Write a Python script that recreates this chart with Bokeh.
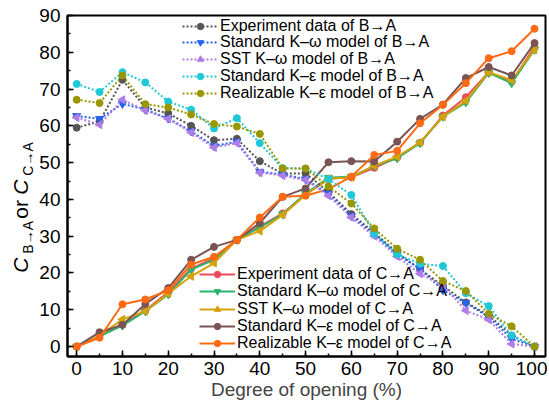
import numpy as np
from bokeh.plotting import figure
from bokeh.layouts import row
from bokeh.models import Legend, LegendItem, Range1d, FixedTicker
from bokeh.core.properties import value
from bokeh.embed import file_html
from bokeh.resources import INLINE

degree = [0, 5, 10, 15, 20, 25, 30, 35, 40, 45, 50, 55, 60, 65, 70, 75, 80, 85, 90, 95, 100]

# B -> A series
exp_ba = [59.5, 61.2, 72.5, 65.0, 63.4, 60.0, 56.1, 56.5, 50.4, 47.0, 47.1, 42.0, 36.0, 31.0, 25.5, 21.0, 16.5, 12.0, 8.5, 3.0, 0]
skw_ba = [62.7, 61.9, 66.0, 64.4, 62.0, 58.5, 54.5, 55.7, 47.5, 46.8, 45.5, 41.5, 35.5, 30.5, 25.0, 21.2, 15.3, 11.9, 8.0, 2.1, 0]
sst_ba = [62.3, 60.3, 67.1, 64.2, 61.9, 58.2, 54.1, 55.3, 47.3, 46.5, 45.3, 41.0, 35.1, 30.0, 24.5, 19.8, 16.6, 9.8, 7.3, 0.7, 0]
ske_ba = [71.4, 69.2, 74.6, 71.8, 66.6, 64.4, 59.3, 62.1, 55.3, 48.5, 48.4, 45.5, 41.2, 30.7, 25.1, 22.5, 21.9, 14.5, 11.0, 3.0, 0]
rke_ba = [67.1, 66.2, 73.7, 65.9, 65.0, 63.1, 60.5, 59.8, 57.8, 48.4, 48.4, 43.5, 38.9, 32.1, 26.6, 23.6, 17.8, 15.1, 8.9, 5.5, 0]

# C -> A series
exp_ca = [0, 3.0, 6.0, 9.8, 14.8, 21.2, 24.0, 29.0, 32.7, 36.2, 41.4, 45.6, 46.0, 48.6, 51.4, 55.4, 62.8, 67.8, 74.6, 72.0, 81.4]
skw_ca = [0, 2.8, 5.7, 9.6, 14.2, 20.9, 23.6, 29.0, 32.4, 36.0, 41.6, 45.9, 46.2, 49.1, 51.2, 55.3, 62.5, 66.4, 74.4, 71.6, 80.7]
sst_ca = [0, 3.0, 7.4, 9.6, 14.4, 19.1, 22.7, 29.0, 31.4, 35.8, 41.2, 45.6, 46.0, 49.2, 51.6, 55.5, 62.5, 66.8, 74.6, 72.4, 80.7]
ske_ca = [0, 3.9, 5.9, 11.6, 15.9, 23.6, 27.1, 29.0, 33.6, 40.7, 43.0, 50.1, 50.4, 50.3, 55.7, 61.9, 65.8, 73.0, 76.0, 73.7, 82.5]
rke_ca = [0, 2.4, 11.5, 12.8, 15.3, 22.3, 24.4, 29.0, 35.1, 40.7, 41.0, 42.8, 46.2, 52.1, 53.2, 60.7, 65.7, 71.6, 78.4, 80.3, 86.4]

labels_ba = ["Experiment data of B\u2192A", "Standard K\u2013\u03c9 model of B\u2192A", "SST K\u2013\u03c9 model of B\u2192A",
             "Standard K\u2013\u03b5 model of B\u2192A", "Realizable K\u2013\u03b5 model of B\u2192A"]
labels_ca = ["Experiment data of C\u2192A", "Standard K\u2013\u03c9 model of C\u2192A", "SST K\u2013\u03c9 model of C\u2192A",
             "Standard K\u2013\u03b5 model of C\u2192A", "Realizable K\u2013\u03b5 model of C\u2192A"]

x_ticks = [0, 10, 20, 30, 40, 50, 60, 70, 80, 90, 100]
y_ticks = [0, 10, 20, 30, 40, 50, 60, 70, 80, 90]

# y-axis title pieces: (text, size, style, subscript?, offset along the axis in px)
ytitle = [("C", "21px", "italic", False, 0), ("B\u2192A", "14px", "normal", True, 19),
          ("or", "21px", "normal", False, 54), ("C", "21px", "italic", False, 78),
          ("C\u2192A", "14px", "normal", True, 97)]

FONT = "Liberation Sans"
TW = 36            # width of the y-title strip
FRAME_H = 341
yr = Range1d(-2.7, 90)

p = figure(width=547 - TW, height=405, min_border_left=66 - TW, min_border_right=2, min_border_top=15,
           min_border_bottom=49, x_range=Range1d(-2, 102.4), y_range=yr,
           output_backend="svg", toolbar_location=None)
p.xgrid.visible = False
p.ygrid.visible = False
p.outline_line_color = "black"
p.outline_line_width = 2
p.background_fill_color = "white"
p.border_fill_color = "white"

for ax in (p.xaxis[0], p.yaxis[0]):
    ax.axis_line_width = 2
    ax.axis_line_color = "black"
    ax.major_tick_in = 6
    ax.major_tick_out = 0
    ax.minor_tick_in = 3
    ax.minor_tick_out = 0
    ax.major_tick_line_width = 1.5
    ax.minor_tick_line_width = 1.5
    ax.major_label_text_font = FONT
    ax.major_label_text_font_size = "19px"
    ax.major_label_text_color = "black"

p.xaxis[0].ticker = FixedTicker(ticks=x_ticks, minor_ticks=list(range(0, 101, 5)))
p.yaxis[0].ticker = FixedTicker(ticks=y_ticks, minor_ticks=list(range(0, 91, 5)))
p.xaxis[0].major_label_standoff = 5
p.yaxis[0].major_label_standoff = 7
p.xaxis[0].axis_label = "Degree of opening (%)"
p.xaxis[0].axis_label_text_font = FONT
p.xaxis[0].axis_label_text_font_size = "19px"
p.xaxis[0].axis_label_text_font_style = "normal"
p.xaxis[0].axis_label_standoff = 1

# C -> A (solid)
ca_series = [exp_ca, skw_ca, sst_ca, ske_ca, rke_ca]
ca_colors = ["#EE4B5A", "#2DB36E", "#D4A20A", "#7A5353", "#FF6A13"]
markers = ["circle", "inverted_triangle", "triangle", "circle", "circle"]
angles = [0, 0, np.pi / 2, 0, 0]
sizes = [7, 8, 8, 7, 7]
ca_items = []
for ys, c, m, a, s, lab in zip(ca_series, ca_colors, markers, angles, sizes, labels_ca):
    r1 = p.line(degree, ys, line_color=c, line_width=2)
    r2 = p.scatter(degree, ys, marker=m, angle=a, size=s, fill_color=c, line_color=c)
    ca_items.append(LegendItem(label=lab, renderers=[r1, r2]))

# B -> A (dotted)
ba_series = [exp_ba, skw_ba, sst_ba, ske_ba, rke_ba]
ba_colors = ["#555555", "#2563EB", "#B07CE8", "#1FC8D8", "#9A9600"]
ba_items = []
for ys, c, m, a, s, lab in zip(ba_series, ba_colors, markers, angles, sizes, labels_ba):
    r1 = p.line(degree, ys, line_color=c, line_width=2, line_dash="2 2")
    r2 = p.scatter(degree, ys, marker=m, angle=a, size=s, fill_color=c, line_color=c)
    ba_items.append(LegendItem(label=lab, renderers=[r1, r2]))

# one small legend per entry so the row pitch can follow the original
ROW_H = 18
def add_legend_column(items, left, first_center, pitch):
    for i, it in enumerate(items):
        center_from_top = first_center + i * pitch
        y_bottom = FRAME_H - center_from_top - ROW_H / 2
        p.add_layout(Legend(items=[it], location=(left, y_bottom), padding=0, margin=0, spacing=0,
                            glyph_width=36, glyph_height=16, label_height=16, label_standoff=2,
                            label_text_font=FONT, label_text_font_size="16px", label_text_color="black",
                            background_fill_alpha=0, border_line_alpha=0), "center")

add_legend_column(ba_items, 115, 10.7, 16.75)
add_legend_column(ca_items, 132, 259.3, 17.1)

# Narrow strip to the left holding the rotated y-axis title (shares the y range)
t = figure(width=TW, height=405, min_border_left=0, min_border_right=0, min_border_top=15,
           min_border_bottom=49, x_range=Range1d(0, TW), y_range=yr,
           x_axis_location=None, y_axis_location=None,
           output_backend="svg", toolbar_location=None)
t.xgrid.visible = False
t.ygrid.visible = False
t.outline_line_color = None
t.background_fill_color = "white"
t.border_fill_color = "white"

ppu = FRAME_H / (90 + 2.7)
ystart = 20.1
xmain = 20
for txt, fs, st, sub, off in ytitle:
    t.text(x=[xmain + (7 if sub else 0)], y=[ystart + off / ppu], text=[txt], angle=np.pi / 2,
           text_font=value(FONT), text_font_size=value(fs), text_font_style=st,
           text_align="left", text_baseline="middle", text_color="black")

lay = row(t, p)
open("out.html", "w").write(file_html(lay, INLINE))
